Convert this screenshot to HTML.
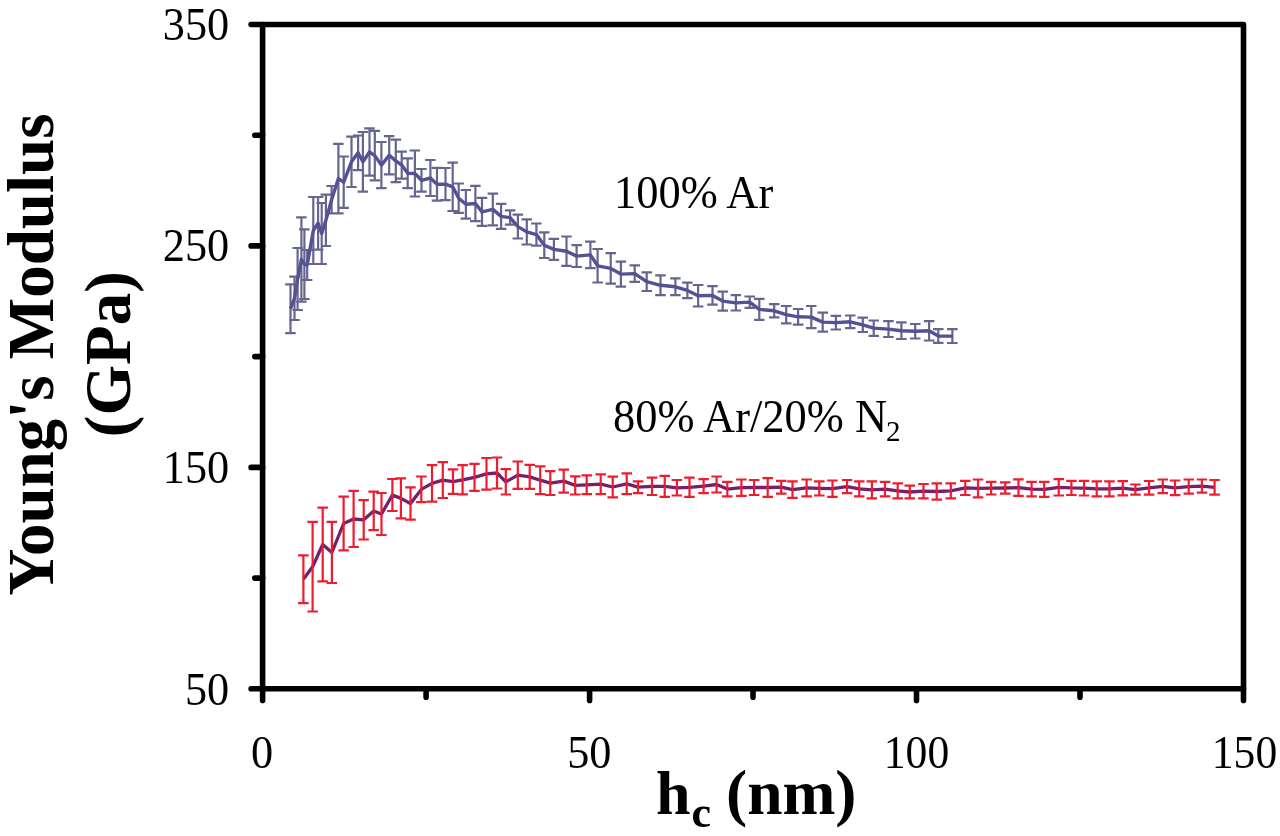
<!DOCTYPE html>
<html><head><meta charset="utf-8"><style>
html,body{margin:0;padding:0;background:#fff;width:1280px;height:836px;overflow:hidden}
svg{display:block;filter:blur(0.5px)}
</style></head><body>
<svg width="1280" height="836" viewBox="0 0 1280 836">
<rect width="1280" height="836" fill="#fff"/>
<g fill="none" stroke-linecap="butt">
<path d="M290.5 284.3V333.1M285.2 284.3h10.5M285.2 333.1h10.5M294.5 276.6V320M289.2 276.6h10.5M289.2 320h10.5M297.6 248V310M292.4 248h10.5M292.4 310h10.5M301.4 217.3V301.6M296.1 217.3h10.5M296.1 301.6h10.5M304.4 229.3V299M299.1 229.3h10.5M299.1 299h10.5M307.2 250V280M301.9 250h10.5M301.9 280h10.5M313.3 197V264M308.1 197h10.5M308.1 264h10.5M318.1 197V249.6M312.9 197h10.5M312.9 249.6h10.5M321.7 203V264M316.4 203h10.5M316.4 264h10.5M325.9 194.6V246M320.6 194.6h10.5M320.6 246h10.5M331.6 186V213.3M326.4 186h10.5M326.4 213.3h10.5M338.4 143.9V213.3M333.1 143.9h10.5M333.1 213.3h10.5M343.7 156.5V207.9M338.4 156.5h10.5M338.4 207.9h10.5M351.5 136.7V187M346.2 136.7h10.5M346.2 187h10.5M358.1 135.5V170.2M352.9 135.5h10.5M352.9 170.2h10.5M362.9 132V191.7M357.6 132h10.5M357.6 191.7h10.5M369.5 128.4V175.6M364.2 128.4h10.5M364.2 175.6h10.5M374.8 130.8V180.4M369.6 130.8h10.5M369.6 180.4h10.5M381.4 142V188.1M376.1 142h10.5M376.1 188.1h10.5M389.2 136.1V174.4M383.9 136.1h10.5M383.9 174.4h10.5M395.8 139.7V182.2M390.6 139.7h10.5M390.6 182.2h10.5M401.7 151.7V178.6M396.4 151.7h10.5M396.4 178.6h10.5M407.7 158.3V188.1M402.4 158.3h10.5M402.4 188.1h10.5M414.9 150.5V196.5M409.6 150.5h10.5M409.6 196.5h10.5M421.5 169V191.7M416.2 169h10.5M416.2 191.7h10.5M430.4 160V196M425.1 160h10.5M425.1 196h10.5M437 167.8V200.7M431.8 167.8h10.5M431.8 200.7h10.5M445.5 168V200.2M440.2 168h10.5M440.2 200.2h10.5M452.7 162.6V211M447.4 162.6h10.5M447.4 211h10.5M458.7 183.5V212.8M453.4 183.5h10.5M453.4 212.8h10.5M465.9 190V218.7M460.6 190h10.5M460.6 218.7h10.5M475.4 185.9V221.1M470.1 185.9h10.5M470.1 221.1h10.5M482 197.8V225.9M476.8 197.8h10.5M476.8 225.9h10.5M492.8 193.6V225.3M487.6 193.6h10.5M487.6 225.3h10.5M501.1 203.8V228.9M495.9 203.8h10.5M495.9 228.9h10.5M510.1 210.4V224.7M504.9 210.4h10.5M504.9 224.7h10.5M517.9 214.6V238.5M512.6 214.6h10.5M512.6 238.5h10.5M526.8 219.3V244.5M521.5 219.3h10.5M521.5 244.5h10.5M536.4 223.5V245.6M531.1 223.5h10.5M531.1 245.6h10.5M544.3 232.3V258M539 232.3h10.5M539 258h10.5M553.9 238.9V259.8M548.6 238.9h10.5M548.6 259.8h10.5M566.5 236.5V265.8M561.2 236.5h10.5M561.2 265.8h10.5M576.6 245.2V267M571.4 245.2h10.5M571.4 267h10.5M590.4 241.6V268.2M585.1 241.6h10.5M585.1 268.2h10.5M597.6 249V282.5M592.4 249h10.5M592.4 282.5h10.5M610.7 253.2V283.7M605.5 253.2h10.5M605.5 283.7h10.5M620.9 261.6V286.7M615.6 261.6h10.5M615.6 286.7h10.5M634.7 265.3V281.9M629.5 265.3h10.5M629.5 281.9h10.5M646.7 272.4V291M641.5 272.4h10.5M641.5 291h10.5M660.5 275.4V295.2M655.2 275.4h10.5M655.2 295.2h10.5M675.4 278.4V295.2M670.1 278.4h10.5M670.1 295.2h10.5M687.4 282.6V298.1M682.1 282.6h10.5M682.1 298.1h10.5M698.1 285V306.5M692.9 285h10.5M692.9 306.5h10.5M712.5 286.2V304.7M707.2 286.2h10.5M707.2 304.7h10.5M722.7 291.6V310.7M717.5 291.6h10.5M717.5 310.7h10.5M735.9 295.2V310.5M730.6 295.2h10.5M730.6 310.5h10.5M749.7 296.5V307.8M744.5 296.5h10.5M744.5 307.8h10.5M759.3 298.9V319.8M754 298.9h10.5M754 319.8h10.5M774.2 304.2V317.4M769 304.2h10.5M769 317.4h10.5M786.2 306V323.4M781 306h10.5M781 323.4h10.5M798.1 309V324.6M792.9 309h10.5M792.9 324.6h10.5M811.3 306V328.1M806 306h10.5M806 328.1h10.5M822.7 312.6V331.7M817.5 312.6h10.5M817.5 331.7h10.5M835.9 315.8V329.5M830.6 315.8h10.5M830.6 329.5h10.5M850.2 315.5V328.1M845 315.5h10.5M845 328.1h10.5M862.8 317.7V332M857.5 317.7h10.5M857.5 332h10.5M873.7 320.5V335.8M868.5 320.5h10.5M868.5 335.8h10.5M888.5 321.1V337M883.2 321.1h10.5M883.2 337h10.5M901.4 322.4V339M896.1 322.4h10.5M896.1 339h10.5M915.2 324V338.5M910 324h10.5M910 338.5h10.5M929.1 321.1V340.5M923.9 321.1h10.5M923.9 340.5h10.5M938.3 329.1V342.9M933 329.1h10.5M933 342.9h10.5M952.4 329.1V343M947.1 329.1h10.5M947.1 343h10.5" stroke="#65658f" stroke-width="2.2"/>
<polyline points="290.5,308.7 294.5,298.3 297.6,279 301.4,259.5 304.4,264.1 307.2,265 313.3,230.5 318.1,223.3 321.7,233.5 325.9,220.3 331.6,199.7 338.4,178.6 343.7,182.2 351.5,161.8 358.1,152.8 362.9,161.8 369.5,152 374.8,155.6 381.4,165.1 389.2,155.2 395.8,160.9 401.7,165.1 407.7,173.2 414.9,173.5 421.5,180.3 430.4,178 437,184.2 445.5,184.1 452.7,186.8 458.7,198.2 465.9,204.3 475.4,203.5 482,211.9 492.8,209.4 501.1,216.4 510.1,217.6 517.9,226.6 526.8,231.9 536.4,234.6 544.3,245.2 553.9,249.4 566.5,251.2 576.6,256.1 590.4,254.9 597.6,265.8 610.7,268.4 620.9,274.1 634.7,273.6 646.7,281.7 660.5,285.3 675.4,286.8 687.4,290.4 698.1,295.8 712.5,295.4 722.7,301.1 735.9,302.9 749.7,302.1 759.3,309.4 774.2,310.8 786.2,314.7 798.1,316.8 811.3,317.1 822.7,322.1 835.9,322.6 850.2,321.8 862.8,324.9 873.7,328.1 888.5,329.1 901.4,330.7 915.2,331.2 929.1,330.8 938.3,336 952.4,336.1" stroke="#525294" stroke-width="3.4" stroke-linejoin="round"/>
<polyline points="303.4,579.2 312.6,566.7 322.7,544.5 331.9,552.5 343.6,523.5 353.6,519 363.7,519.8 373.7,511 381.5,514 392.4,495 400.9,498.4 410.5,503.5 421.3,489.4 432,483.4 442.8,480.1 453,481.6 462.6,479.8 474.5,477.4 486.5,473.9 497,473 505.8,481.9 517.8,475.1 529.7,476.9 540.2,480.2 550.3,483.1 563.7,481.1 575.2,485.4 586.7,484.8 600.7,484.2 612.7,487 626.7,483.8 638,487.2 652,486.4 664.7,486.4 676.9,487.8 689.5,487.3 703.6,486.1 716.6,484.5 727.3,489.1 741.4,487.7 754.1,487.5 767.7,487.5 781.2,487.2 792.5,489.6 806.6,487.9 819.3,488.4 832.5,488.7 847,486.6 859.2,488.9 871.9,489.9 885,489.1 897.7,490.8 909.8,492 923.5,491.1 936.7,491.5 950.8,490.8 965.3,487.9 978,488.4 991.1,488.2 1005.2,488 1018.5,487.6 1031.6,489.1 1044.2,489.4 1058.7,487.3 1071.4,487.9 1084.1,488.2 1096.7,488.9 1109.4,488.9 1122.8,488.2 1135.4,489.6 1149.1,487.9 1162.8,486.4 1175,487.9 1188.7,486.6 1201.9,486.1 1214.6,487.4" stroke="#75206a" stroke-width="3.3" stroke-linejoin="round"/>
<path d="M303.4 555.4V603.1M298.1 555.4h10.5M298.1 603.1h10.5M312.6 521.9V611.5M307.4 521.9h10.5M307.4 611.5h10.5M322.7 507.6V581.3M317.4 507.6h10.5M317.4 581.3h10.5M331.9 521.9V583M326.6 521.9h10.5M326.6 583h10.5M343.6 496.7V550.3M338.4 496.7h10.5M338.4 550.3h10.5M353.6 490.9V547M348.4 490.9h10.5M348.4 547h10.5M363.7 500.1V539.5M358.4 500.1h10.5M358.4 539.5h10.5M373.7 491.7V530.2M368.4 491.7h10.5M368.4 530.2h10.5M381.5 493V535M376.2 493h10.5M376.2 535h10.5M392.4 479V511M387.1 479h10.5M387.1 511h10.5M400.9 478.3V518.4M395.6 478.3h10.5M395.6 518.4h10.5M410.5 487.3V519.6M405.2 487.3h10.5M405.2 519.6h10.5M421.3 476.5V502.2M416.1 476.5h10.5M416.1 502.2h10.5M432 465.1V501.6M426.8 465.1h10.5M426.8 501.6h10.5M442.8 462.1V498M437.6 462.1h10.5M437.6 498h10.5M453 469.3V493.8M447.8 469.3h10.5M447.8 493.8h10.5M462.6 465.1V494.4M457.4 465.1h10.5M457.4 494.4h10.5M474.5 463.9V490.9M469.2 463.9h10.5M469.2 490.9h10.5M486.5 458V489.7M481.2 458h10.5M481.2 489.7h10.5M497 457.5V488.5M491.8 457.5h10.5M491.8 488.5h10.5M505.8 469.2V494.5M500.6 469.2h10.5M500.6 494.5h10.5M517.8 461.5V488.8M512.5 461.5h10.5M512.5 488.8h10.5M529.7 464.9V488.8M524.5 464.9h10.5M524.5 488.8h10.5M540.2 466.3V494.1M535 466.3h10.5M535 494.1h10.5M550.3 471.1V495M545 471.1h10.5M545 495h10.5M563.7 469.7V492.6M558.5 469.7h10.5M558.5 492.6h10.5M575.2 476.4V494.5M570 476.4h10.5M570 494.5h10.5M586.7 475.4V494.1M581.5 475.4h10.5M581.5 494.1h10.5M600.7 474.4V494.1M595.5 474.4h10.5M595.5 494.1h10.5M612.7 476.7V497.3M607.5 476.7h10.5M607.5 497.3h10.5M626.7 473.4V494.1M621.5 473.4h10.5M621.5 494.1h10.5M638 481.4V493.1M632.8 481.4h10.5M632.8 493.1h10.5M652 477.7V495M646.8 477.7h10.5M646.8 495h10.5M664.7 475.8V496.9M659.5 475.8h10.5M659.5 496.9h10.5M676.9 480V495.5M671.6 480h10.5M671.6 495.5h10.5M689.5 477.7V496.9M684.2 477.7h10.5M684.2 496.9h10.5M703.6 479.1V493.1M698.4 479.1h10.5M698.4 493.1h10.5M716.6 476.5V492.5M711.4 476.5h10.5M711.4 492.5h10.5M727.3 481.9V496.4M722 481.9h10.5M722 496.4h10.5M741.4 479.5V495.9M736.1 479.5h10.5M736.1 495.9h10.5M754.1 480V495M748.9 480h10.5M748.9 495h10.5M767.7 478.1V496.9M762.5 478.1h10.5M762.5 496.9h10.5M781.2 480.9V493.6M776 480.9h10.5M776 493.6h10.5M792.5 481.4V497.8M787.2 481.4h10.5M787.2 497.8h10.5M806.6 479.5V496.4M801.4 479.5h10.5M801.4 496.4h10.5M819.3 481.4V495.5M814 481.4h10.5M814 495.5h10.5M832.5 480.5V496.9M827.2 480.5h10.5M827.2 496.9h10.5M847 480V493.1M841.8 480h10.5M841.8 493.1h10.5M859.2 481.4V496.4M854 481.4h10.5M854 496.4h10.5M871.9 481.4V498.3M866.6 481.4h10.5M866.6 498.3h10.5M885 481.9V496.4M879.8 481.9h10.5M879.8 496.4h10.5M897.7 483.3V498.3M892.5 483.3h10.5M892.5 498.3h10.5M909.8 485.6V498.3M904.5 485.6h10.5M904.5 498.3h10.5M923.5 484V498.3M918.2 484h10.5M918.2 498.3h10.5M936.7 483.3V499.7M931.5 483.3h10.5M931.5 499.7h10.5M950.8 483.3V498.3M945.5 483.3h10.5M945.5 498.3h10.5M965.3 480.9V495M960 480.9h10.5M960 495h10.5M978 479.5V497.3M972.8 479.5h10.5M972.8 497.3h10.5M991.1 481.9V494.5M985.9 481.9h10.5M985.9 494.5h10.5M1005.2 482.3V493.6M1000 482.3h10.5M1000 493.6h10.5M1018.5 479.3V495.9M1013.2 479.3h10.5M1013.2 495.9h10.5M1031.6 481.9V496.4M1026.3 481.9h10.5M1026.3 496.4h10.5M1044.2 481.9V496.9M1039 481.9h10.5M1039 496.9h10.5M1058.7 479.1V495.5M1053.5 479.1h10.5M1053.5 495.5h10.5M1071.4 480.9V495M1066.2 480.9h10.5M1066.2 495h10.5M1084.1 480.9V495.5M1078.8 480.9h10.5M1078.8 495.5h10.5M1096.7 481.4V496.4M1091.5 481.4h10.5M1091.5 496.4h10.5M1109.4 481.4V496.4M1104.2 481.4h10.5M1104.2 496.4h10.5M1122.8 481.2V495.3M1117.5 481.2h10.5M1117.5 495.3h10.5M1135.4 484.5V494.7M1130.2 484.5h10.5M1130.2 494.7h10.5M1149.1 481V494.7M1143.8 481h10.5M1143.8 494.7h10.5M1162.8 479.5V493.2M1157.5 479.5h10.5M1157.5 493.2h10.5M1175 480.5V495.2M1169.8 480.5h10.5M1169.8 495.2h10.5M1188.7 479.5V493.7M1183.5 479.5h10.5M1183.5 493.7h10.5M1201.9 479.5V492.7M1196.7 479.5h10.5M1196.7 492.7h10.5M1214.6 480V494.7M1209.3 480h10.5M1209.3 494.7h10.5" stroke="#ee1c2e" stroke-width="2.2"/>
</g>
<g stroke="#000" fill="none" stroke-width="5.6" stroke-linecap="round">
<rect x="262.6" y="24.5" width="980.9" height="664.3" stroke-linejoin="round"/>
<path d="M251.1 24.5H262.6M254.8 135.2H262.6M251.1 245.9H262.6M254.8 356.6H262.6M251.1 467.4H262.6M254.8 578.1H262.6M251.1 688.8H262.6M262.6 688.8V700.4M426.1 688.8V697.2M589.6 688.8V700.4M753 688.8V697.2M916.5 688.8V700.4M1080 688.8V697.2M1243.5 688.8V700.4"/>
</g>
<g font-family="Liberation Serif, serif" font-size="45" fill="#000">
<g text-anchor="end">
<text transform="translate(229.2,40.2) scale(0.985,1.025)">350</text>
<text transform="translate(229.2,261.4) scale(0.985,1.025)">250</text>
<text transform="translate(229.2,482.6) scale(0.985,1.025)">150</text>
<text transform="translate(229.2,705.3) scale(0.985,1.025)">50</text>
</g>
<g text-anchor="middle">
<text transform="translate(262.1,767.8) scale(0.985,1.035)">0</text>
<text transform="translate(589.3,767.8) scale(0.985,1.035)">50</text>
<text transform="translate(916.5,767.8) scale(0.97,1.035)">100</text>
<text transform="translate(1244.5,767.8) scale(0.97,1.035)">150</text>
</g>
<text transform="translate(614,207.5) scale(0.988,1.03)">100% Ar</text>
<text transform="translate(613,431.8) scale(0.988,1.04)">80% Ar/20% N</text>
<text transform="translate(886,440.7) scale(1,1)" font-size="29">2</text>
</g>
<g font-family="Liberation Serif, serif" font-weight="bold" fill="#000">
<text transform="translate(656,814)" font-size="62">h</text>
<text transform="translate(691.5,826.5)" font-size="44">c</text>
<text transform="translate(726,814)" font-size="63.5">(nm)</text>
<text transform="translate(53.3,354.7) rotate(-90)" font-size="65" text-anchor="middle">Young's Modulus</text>
<text transform="translate(130,354.2) rotate(-90)" font-size="65" text-anchor="middle">(GPa)</text>
</g>
</svg>
</body></html>
